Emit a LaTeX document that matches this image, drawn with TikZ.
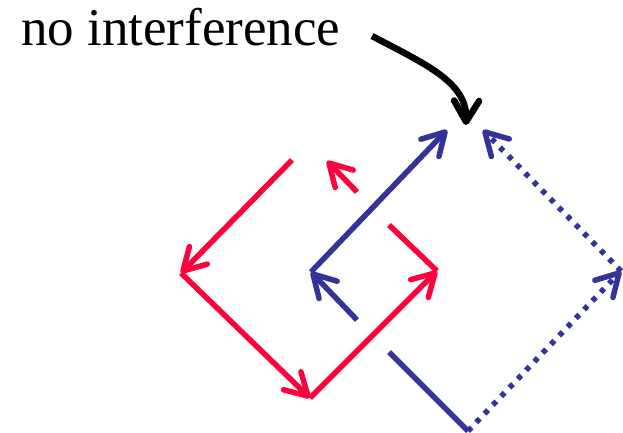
\documentclass[tikz,border=0pt]{standalone}
\usepackage{fontspec}
\setmainfont{Liberation Serif}
\usetikzlibrary{arrows.meta}
\definecolor{kred}{RGB}{255,0,60}
\definecolor{kblue}{RGB}{51,51,153}
\tikzset{
  seg/.style={line width=5.5pt},
  redseg/.style={seg, draw=kred},
  blueseg/.style={seg, draw=kblue},
  dotseg/.style={seg, draw=kblue, dash pattern=on 5pt off 7pt},
  tipd/.style={-{Straight Barb[round, length=22pt, width=25pt]}},
  pointer/.style={line width=6.5pt, draw=black, -{Straight Barb[round, length=21pt, width=25pt]}}
}
\begin{document}
\begin{tikzpicture}[x=1pt,y=-1pt]
\useasboundingbox (0,0) rectangle (623,433);
\node[anchor=base west, inner sep=0pt, font=\fontsize{53}{60}\selectfont] (T) at (21,46) {no interference};
\coordinate (A1) at (372,36);
\coordinate (A2) at (466,125);
% red path
\coordinate (R1) at (292,160);
\coordinate (R2) at (181,273);
\coordinate (R3) at (310,398);
\coordinate (R4) at (437,271);
\coordinate (R5) at (389,225);
\coordinate (R6) at (357,192);
\coordinate (R7) at (327,161);
% blue path
\coordinate (B1) at (357,320);
\coordinate (B2) at (311,272);
\coordinate (B3) at (447,130);
\coordinate (B4) at (389,352);
\coordinate (B5) at (468,431);
\coordinate (B6) at (621,271);
\coordinate (B7) at (483,130);

\draw[redseg, tipd] (R1) -- (R2);
\draw[redseg, tipd] (R2) -- (R3);
\draw[redseg, tipd] (R3) -- (R4);
\draw[redseg] (R4) -- (R5);
\draw[redseg, tipd] (R6) -- (R7);

\draw[blueseg, tipd] (B1) -- (B2);
\draw[blueseg, tipd] (B2) -- (B3);
\draw[blueseg] (B4) -- (B5);
\draw[dotseg, tipd] (B5) -- (B6);
\draw[dotseg, tipd] (B6) -- (B7);

\draw[pointer] (A1) .. controls (425,64) and (467,82) .. (A2);
\end{tikzpicture}
\end{document}
